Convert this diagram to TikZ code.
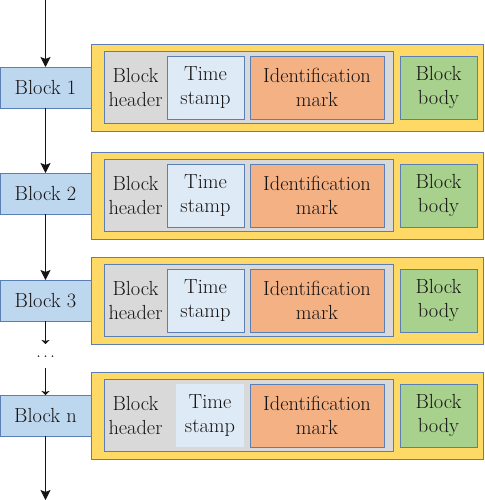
\documentclass[tikz,border=0pt]{standalone}
\usepackage{xcolor}
\usetikzlibrary{positioning,calc,arrows.meta}

\definecolor{blkblue}{HTML}{BDD7EE}
\definecolor{edgeblue}{HTML}{5A7FB5}
\definecolor{chainyellow}{HTML}{FFD966}
\definecolor{hdrgray}{HTML}{D9D9D9}
\definecolor{tsblue}{HTML}{DEEBF7}
\definecolor{idorange}{HTML}{F4B183}
\definecolor{bodygreen}{HTML}{A9D18E}
\definecolor{inkdark}{HTML}{161314}

\tikzset{
	box/.style={draw=edgeblue,line width=0.8pt,inner sep=0pt,outer sep=0pt,align=center,text=inkdark,font=\fontsize{20.4}{24}\selectfont},
	blk/.style={box,fill=blkblue,minimum width=91pt,minimum height=41pt},
	chain/.style={box,fill=chainyellow,minimum width=392pt,minimum height=87pt},
	hdr/.style={box,fill=hdrgray,minimum width=289pt,minimum height=72pt},
	stamp/.style={box,fill=tsblue,minimum width=77pt,minimum height=63pt},
	idbox/.style={box,fill=idorange,minimum width=134pt,minimum height=63pt},
	bodybox/.style={box,fill=bodygreen,minimum width=77pt,minimum height=63pt},
	lbl/.style={inner sep=0pt,align=center,text=inkdark,font=\fontsize{20.4}{24}\selectfont},
	link/.style={draw=inkdark,line width=0.8pt,-{Stealth[length=10pt,width=10pt,inset=2pt]}},
	shortlink/.style={draw=inkdark,line width=0.8pt,-{Stealth[length=4pt,width=8pt,inset=1pt]}},
}

\begin{document}
\begin{tikzpicture}[x=1pt,y=-1pt]
		\useasboundingbox (0,0) rectangle (484,500);
		% block 1
		\node[blk] (blk1) at (45.5,87.5) {Block 1};
		\node[chain,right=0pt of blk1] (chain1) {};
		\node[hdr,right=13pt of chain1.west] (hdr1) {};
		\node[stamp,right=63pt of hdr1.west] (ts1) {Time\\stamp};
		\node[idbox,right=6pt of ts1] (id1) {Identification\\mark};
		\node[bodybox,right=16pt of id1] (body1) {Block\\body};
		\node[lbl] (hl1) at ($(hdr1.west)!0.5!(ts1.west)$) {Block\\header};
		% block 2
		\node[blk] (blk2) at (45.5,193.5) {Block 2};
		\node[chain,right=0pt of blk2,yshift=-2pt] (chain2) {};
		\node[hdr,right=13pt of chain2.west] (hdr2) {};
		\node[stamp,right=63pt of hdr2.west] (ts2) {Time\\stamp};
		\node[idbox,right=6pt of ts2] (id2) {Identification\\mark};
		\node[bodybox,right=16pt of id2] (body2) {Block\\body};
		\node[lbl] (hl2) at ($(hdr2.west)!0.5!(ts2.west)$) {Block\\header};
		% block 3
		\node[blk] (blk3) at (45.5,300.5) {Block 3};
		\node[chain,right=0pt of blk3] (chain3) {};
		\node[hdr,right=13pt of chain3.west] (hdr3) {};
		\node[stamp,right=63pt of hdr3.west] (ts3) {Time\\stamp};
		\node[idbox,right=6pt of ts3] (id3) {Identification\\mark};
		\node[bodybox,right=16pt of id3] (body3) {Block\\body};
		\node[lbl] (hl3) at ($(hdr3.west)!0.5!(ts3.west)$) {Block\\header};
		% block n
		\node[blk] (blkn) at (45.5,415.5) {Block n};
		\node[chain,right=0pt of blkn] (chainn) {};
		\node[hdr,right=13pt of chainn.west] (hdrn) {};
		\node[stamp,draw=none,minimum width=68pt,right=72pt of hdrn.west] (tsn) {Time\\stamp};
		\node[idbox,right=6pt of tsn] (idn) {Identification\\mark};
		\node[bodybox,right=16pt of idn] (bodyn) {Block\\body};
		\node[lbl] (hln) at ($(hdrn.west)!0.5!(ts3.west|-hdrn.west)$) {Block\\header};
		%
		\coordinate (top) at (45.5,0);
		\coordinate (gap1) at (45.5,344);
		\coordinate (gap2) at (45.5,368);
		\coordinate (bottom) at (45.5,500);
		\node[lbl,font=\fontsize{20}{20}\selectfont] (dots) at (45.5,357) {.\hspace{2pt}.\hspace{2pt}.};
		\draw[link] (top) -- (blk1);
		\draw[link] (blk1) -- (blk2);
		\draw[link] (blk2) -- (blk3);
		\draw[shortlink] (blk3) -- (gap1);
		\draw[shortlink] (gap2) -- (blkn);
		\draw[link] (blkn) -- (bottom);
	\end{tikzpicture}
\end{document}
